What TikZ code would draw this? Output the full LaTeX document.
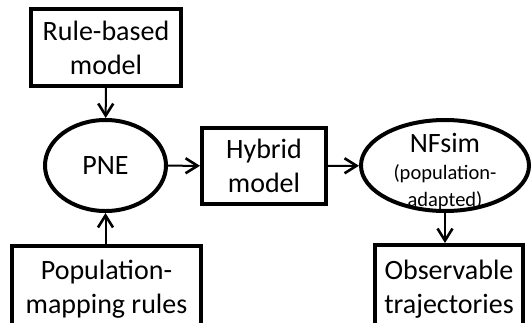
\documentclass[tikz,border=0pt]{standalone}
\usepackage{fontspec}
\setmainfont{Carlito}
\usetikzlibrary{arrows.meta,shapes.geometric}

\begin{document}
\begin{tikzpicture}[x=1pt,y=-1pt]
    \tikzset{box/.style={draw,line width=4pt,align=center,inner sep=0pt,
                font=\fontsize{28}{34}\selectfont},
            oval/.style={box,ellipse},
            small/.style={align=center,inner sep=0pt,font=\fontsize{20.5}{27}\selectfont},
            link/.style={line width=2pt,-{Straight Barb[length=12pt,width=15pt,line width=2.6pt]}}}
    \useasboundingbox (0,0) rectangle (532,322);
    \clip (0,0) rectangle (532,322);
    \node[box,minimum width=150pt,minimum height=77pt] (rule) at (106,47.5) {Rule-based\\model};
    \node[oval,minimum width=121pt,minimum height=91pt] (pne) at (105.5,165.5) {PNE};
    \node[box,minimum width=124pt,minimum height=76pt] (hybrid) at (264,166) {Hybrid\\model};
    \node[oval,minimum width=168pt,minimum height=91pt] (nfsim) at (445,165.5) {};
    \node[small] (nfsimtext) at (445,171.5)
        {{\fontsize{28}{34}\selectfont NFsim}\\(population-\\adapted)};
    \node[box,minimum width=189pt,minimum height=87pt] (popmap) at (106.5,289.5) {Population-\\mapping rules};
    \node[box,minimum width=148pt,minimum height=89pt] (observ) at (449,289.5) {Observable\\trajectories};
    \draw[link] (rule) -- (pne);
    \draw[link] (pne.south |- popmap.north) -- (pne.south);
    \draw[link] (pne) -- (hybrid);
    \draw[link] (hybrid) -- (nfsim);
    \draw[link] (nfsim.south) -- (nfsim.south |- observ.north);
\end{tikzpicture}
\end{document}
